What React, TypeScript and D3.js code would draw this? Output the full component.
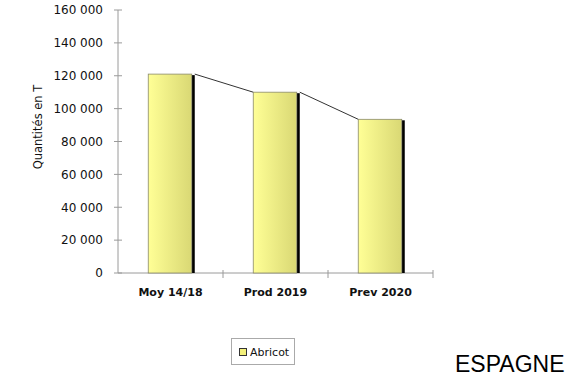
import React from "react";
import * as d3 from "d3";

const categories = ["Moy 14/18", "Prod 2019", "Prev 2020"];
const abricot = [121000, 110000, 93500];
const yTicks = [0, 20000, 40000, 60000, 80000, 100000, 120000, 140000, 160000];
const seriesName = "Abricot";
const countryTitle = "ESPAGNE";
const yTitle = "Quantités en T";

const W = 584;
const H = 391;

export default function App() {
  const x = d3.scaleBand<string>().domain(categories).range([118, 433]).paddingInner(0).paddingOuter(0);
  const y = d3.scaleLinear().domain([0, 160000]).range([273, 10]);
  const bw = 43.5;
  const shadow = 3;
  const fmt = (v: number) => d3.format(",")(v).replace(/,/g, " ");
  const barX = (c: string) => (x(c) as number) + x.bandwidth() / 2 - bw / 2 - 0.5;

  return (
    <svg width={W} height={H} style={{ position: "absolute", left: 0, top: 0, background: "#fff" }}>
      <defs>
        <linearGradient id="barGrad" x1="0" x2="1" y1="0" y2="0">
          <stop offset="0%" stopColor="#ffff96" />
          <stop offset="100%" stopColor="#d9d874" />
        </linearGradient>
      </defs>
      <rect x={0} y={0} width={W} height={H} fill="#fff" />
      {/* Y axis */}
      <line x1={118} x2={118} y1={y(160000)} y2={y(0)} stroke="#9a9a9a" strokeWidth={1} />
      {yTicks.map((t) => (
        <g key={t}>
          <line x1={114} x2={122} y1={y(t)} y2={y(t)} stroke="#9a9a9a" strokeWidth={1} />
          <text x={103} y={y(t)} dy="0.36em" textAnchor="end" fontFamily="DejaVu Sans, Verdana, sans-serif" fontSize={12} fill="#111">
            {fmt(t)}
          </text>
        </g>
      ))}
      {/* X axis */}
      <line x1={118} x2={433} y1={y(0)} y2={y(0)} stroke="#9a9a9a" strokeWidth={1} />
      {categories.slice(1).map((c) => (
        <line key={c} x1={x(c) as number} x2={x(c) as number} y1={y(0) - 3} y2={y(0) + 5} stroke="#9a9a9a" strokeWidth={1} />
      ))}
      <line x1={433} x2={433} y1={y(0) - 3} y2={y(0) + 5} stroke="#9a9a9a" strokeWidth={1} />
      {categories.map((c) => (
        <text key={c} x={(x(c) as number) + x.bandwidth() / 2} y={296} textAnchor="middle" fontFamily="DejaVu Sans, sans-serif" fontWeight="bold" fontSize={11} fill="#111">
          {c}
        </text>
      ))}
      {/* Series lines */}
      {abricot.slice(0, -1).map((v, i) => (
        <line
          key={i}
          x1={barX(categories[i]) + bw + shadow}
          y1={y(v)}
          x2={barX(categories[i + 1])}
          y2={y(abricot[i + 1])}
          stroke="#333"
          strokeWidth={1}
        />
      ))}
      {/* Bars */}
      {abricot.map((v, i) => {
        const bx = barX(categories[i]);
        return (
          <g key={i}>
            <rect x={bx + bw} y={y(v) + 1} width={shadow} height={y(0) - y(v) - 1} fill="#000" />
            <rect x={bx} y={y(v)} width={bw} height={y(0) - y(v)} fill="url(#barGrad)" stroke="#8a8a6a" strokeWidth={0.8} />
          </g>
        );
      })}
      {/* Y title */}
      <text transform="translate(42,127) rotate(-90)" textAnchor="middle" fontFamily="DejaVu Sans, Verdana, sans-serif" fontSize={11.5} fill="#111">
        {yTitle}
      </text>
      {/* Legend */}
      <rect x={231.5} y={338.5} width={63} height={26} fill="#fff" stroke="#aaa" strokeWidth={1} />
      <rect x={239.5} y={348.5} width={7} height={7} fill="#f3f07a" stroke="#333" strokeWidth={1} />
      <text x={250} y={356} fontFamily="DejaVu Sans, sans-serif" fontSize={11} fill="#111">
        {seriesName}
      </text>
      {/* Title */}
      <text x={455} y={372} fontFamily="Liberation Sans, Arial, sans-serif" fontSize={23} fill="#000">
        {countryTitle}
      </text>
    </svg>
  );
}
